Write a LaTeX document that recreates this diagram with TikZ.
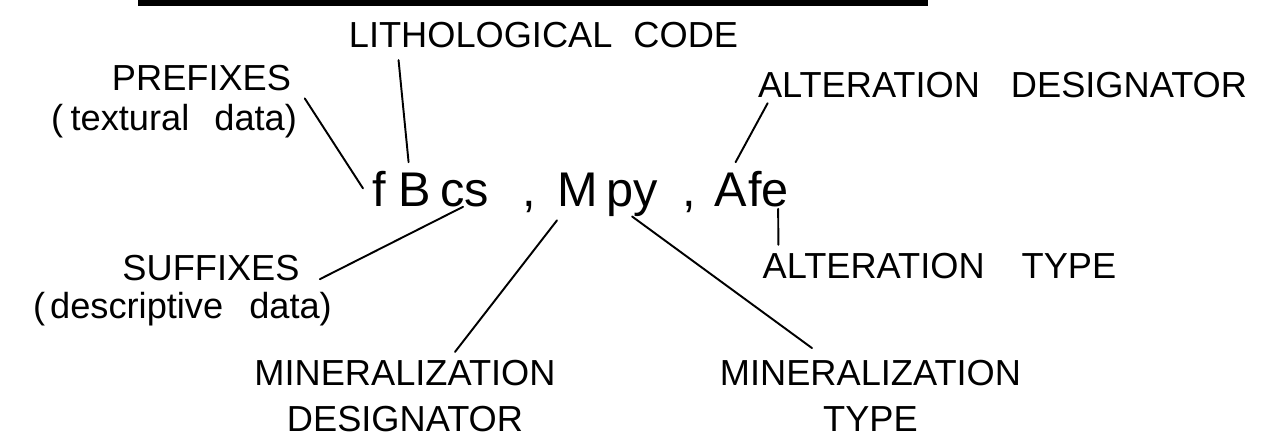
\documentclass[tikz,border=0pt]{standalone}
\usepackage{fontspec}
\setmainfont{Liberation Sans}
\begin{document}
\begin{tikzpicture}[line join=round, line cap=round,
	lbl/.style={inner sep=0pt, align=center, font=\fontsize{20.6}{26.1}\selectfont},
	code/.style={inner sep=0pt, anchor=base west, font=\fontsize{27.7}{30}\selectfont},
	tie/.style={line width=1.1pt}]
	\useasboundingbox (0,0) rectangle (25.22,-8.88);
	\fill (2.76,0) rectangle (18.56,-0.11); % bar at the top
	% the code string
	\node[code] (f) at (7.44,-4.12) {f};
	\node[code] (B) at (7.96,-4.12) {B};
	\node[code] (cs) at (8.80,-4.12) {cs};
	\node[code] (comA) at (10.44,-4.12) {,};
	\node[code] (M) at (11.14,-4.12) {M};
	\node[code] (py) at (12.12,-4.12) {py};
	\node[code] (comB) at (13.64,-4.12) {,};
	\node[code] (A) at (14.28,-4.12) {A};
	\node[code] (fe) at (14.96,-4.12) {fe};
	% labels
	\node[lbl] (litho) at (10.87,-0.70) {LITHOLOGICAL\hspace{0.22cm} CODE};
	\node[lbl] (pfx) at (4.03,-1.57) {PREFIXES};
	\node[lbl, anchor=base] (pfxsub) at (3.48,-2.60) {(\hspace{0.15cm}textural\hspace{0.3cm} data)};
	\node[lbl] (ades) at (20.05,-1.70) {ALTERATION\hspace{0.42cm} DESIGNATOR};
	\node[lbl] (suf) at (4.22,-5.36) {SUFFIXES};
	\node[lbl, anchor=base] (sufsub) at (3.65,-6.36) {(\hspace{0.1cm}descriptive\hspace{0.32cm} data)};
	\node[lbl] (atyp) at (18.79,-5.32) {ALTERATION\hspace{0.54cm} TYPE};
	\node[lbl] (mdes) at (8.10,-7.92) {MINERALIZATION\\DESIGNATOR};
	\node[lbl] (mtyp) at (17.41,-7.92) {MINERALIZATION\\TYPE};
	% leaders
	\draw[tie] ([xshift=0.15cm,yshift=0.1cm]pfxsub.north east) -- ([xshift=-0.18cm]f.west);
	\draw[tie] ([xshift=1.0cm,yshift=-0.24cm]litho.south west) -- ([xshift=-0.12cm,yshift=0.2cm]B.north);
	\draw[tie] ([xshift=0.2cm,yshift=-0.1cm]ades.south west) -- ([xshift=0.1cm,yshift=0.2cm]A.north);
	\draw[tie] ([xshift=0.19cm,yshift=-0.04cm]fe.south) -- ([xshift=0.32cm,yshift=0.16cm]atyp.north west);
	\draw[tie] ([xshift=0.4cm,yshift=0.04cm]suf.south east) -- ([xshift=0.46cm]cs.south west);
	\draw[tie] ([yshift=-0.28cm]M.south west) -- ([xshift=1.0cm,yshift=0.16cm]mdes.north);
	\draw[tie] (py.south) -- ([xshift=-1.17cm,yshift=0.24cm]mtyp.north);
\end{tikzpicture}
\end{document}
